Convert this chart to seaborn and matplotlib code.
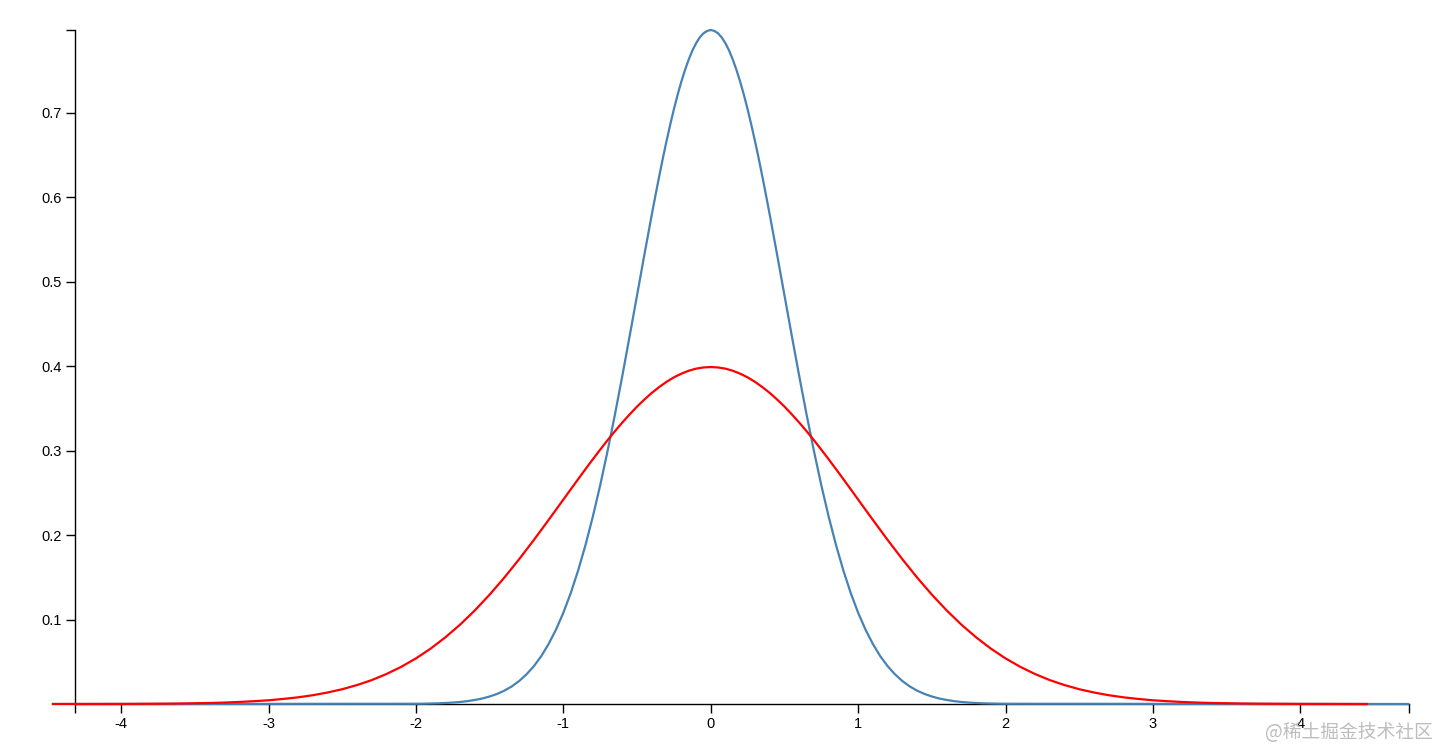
import numpy as np
import pandas as pd
import matplotlib
matplotlib.use("Agg")
import matplotlib.pyplot as plt
import seaborn as sns

# ---- data ----
# red curve: standard normal density (sample positions and heights)
red_x = ([-4.47]
         + list(np.round(np.linspace(-4.0, -1.1, 30), 3))
         + list(np.round(np.linspace(-1.0, 1.0, 41), 3))
         + list(np.round(np.linspace(1.1, 4.0, 30), 3))
         + [4.46])
red_y = [0.0,
         # -4.0 .. -1.1
         0.0001, 0.0002, 0.0003, 0.0004, 0.0006, 0.0009, 0.0012, 0.0017, 0.0024, 0.0033,
         0.0044, 0.0060, 0.0079, 0.0104, 0.0136, 0.0175, 0.0224, 0.0283, 0.0355, 0.0440,
         0.0540, 0.0656, 0.0790, 0.0940, 0.1109, 0.1295, 0.1497, 0.1714, 0.1942, 0.2179,
         # -1.0 .. 1.0
         0.2420, 0.2541, 0.2661, 0.2780, 0.2897, 0.3011, 0.3123, 0.3230, 0.3332, 0.3429,
         0.3521, 0.3605, 0.3683, 0.3752, 0.3814, 0.3867, 0.3910, 0.3945, 0.3970, 0.3984,
         0.3989,
         0.3984, 0.3970, 0.3945, 0.3910, 0.3867, 0.3814, 0.3752, 0.3683, 0.3605, 0.3521,
         0.3429, 0.3332, 0.3230, 0.3123, 0.3011, 0.2897, 0.2780, 0.2661, 0.2541, 0.2420,
         # 1.1 .. 4.0
         0.2179, 0.1942, 0.1714, 0.1497, 0.1295, 0.1109, 0.0940, 0.0790, 0.0656, 0.0540,
         0.0440, 0.0355, 0.0283, 0.0224, 0.0175, 0.0136, 0.0104, 0.0079, 0.0060, 0.0044,
         0.0033, 0.0024, 0.0017, 0.0012, 0.0009, 0.0006, 0.0004, 0.0003, 0.0002, 0.0001,
         0.0]

# blue curve: narrower normal density (sample positions and heights)
blue_x = ([-4.47]
          + list(np.round(np.linspace(-2.0, -0.45, 32), 3))
          + list(np.round(np.linspace(-0.4, 0.4, 33), 3))
          + list(np.round(np.linspace(0.45, 2.0, 32), 3))
          + [4.74])
blue_y = [0.0,
          # -2.0 .. -0.45
          0.0003, 0.0004, 0.0006, 0.0008, 0.0012, 0.0017, 0.0024, 0.0034, 0.0048, 0.0065,
          0.0089, 0.0119, 0.0158, 0.0208, 0.0272, 0.0351, 0.0448, 0.0566, 0.0710, 0.0880,
          0.1080, 0.1312, 0.1579, 0.1880, 0.2218, 0.2590, 0.2995, 0.3427, 0.3884, 0.4357,
          0.4839, 0.5321,
          # -0.4 .. 0.4
          0.5794, 0.6022, 0.6245, 0.6460, 0.6664, 0.6858, 0.7041, 0.7210, 0.7365, 0.7504,
          0.7627, 0.7734, 0.7821, 0.7890, 0.7939, 0.7968,
          0.7979,
          0.7968, 0.7939, 0.7890, 0.7821, 0.7734, 0.7627, 0.7504, 0.7365, 0.7210, 0.7041,
          0.6858, 0.6664, 0.6460, 0.6245, 0.6022, 0.5794,
          # 0.45 .. 2.0
          0.5321, 0.4839, 0.4357, 0.3884, 0.3427, 0.2995, 0.2590, 0.2218, 0.1880, 0.1579,
          0.1312, 0.1080, 0.0880, 0.0710, 0.0566, 0.0448, 0.0351, 0.0272, 0.0208, 0.0158,
          0.0119, 0.0089, 0.0065, 0.0048, 0.0034, 0.0024, 0.0017, 0.0012, 0.0008, 0.0006,
          0.0004, 0.0003,
          0.0]

assert len(red_x) == len(red_y) and len(blue_x) == len(blue_y)

x_domain = [-4.313, 4.737]
y_domain = [0.0, 0.7979]
x_ticks = [-4, -3, -2, -1, 0, 1, 2, 3, 4]
x_tick_labels = ["-4", "-3", "-2", "-1", "0", "1", "2", "3", "4"]
y_ticks = [0.1, 0.2, 0.3, 0.4, 0.5, 0.6, 0.7]
y_tick_labels = ["0.1", "0.2", "0.3", "0.4", "0.5", "0.6", "0.7"]
watermark = "@稀土掘金技术社区"

# ---- drawing ----
sns.set_theme(style="white")
plt.rcParams["font.family"] = ["Liberation Sans", "DejaVu Sans"]
plt.rcParams["axes.unicode_minus"] = False

fig = plt.figure(figsize=(14.4, 7.5), dpi=100)
ax = fig.add_axes([75 / 1440, 1 - 704 / 750, (1409 - 75) / 1440, (704 - 30) / 750])

df_blue = pd.DataFrame({"x": blue_x, "y": blue_y})
df_red = pd.DataFrame({"x": red_x, "y": red_y})
sns.lineplot(data=df_blue, x="x", y="y", color="#4682b4", linewidth=1.6,
             sort=False, ax=ax, clip_on=False, zorder=3,
             solid_joinstyle="round", solid_capstyle="butt")
sns.lineplot(data=df_red, x="x", y="y", color="#ff0000", linewidth=1.6,
             sort=False, ax=ax, clip_on=False, zorder=4,
             solid_joinstyle="round", solid_capstyle="butt")

ax.set_xlim(*x_domain)
ax.set_ylim(*y_domain)
ax.set_xlabel("")
ax.set_ylabel("")

# ticks incl. d3-style outer ticks at domain ends (blank labels)
ax.set_xticks([x_domain[0]] + x_ticks + [x_domain[1]])
ax.set_xticklabels([""] + x_tick_labels + [""])
ax.set_yticks(y_ticks + [y_domain[1]])
ax.set_yticklabels(y_tick_labels + [""])

for s in ["top", "right"]:
    ax.spines[s].set_visible(False)
for s in ["left", "bottom"]:
    ax.spines[s].set_color("#000000")
    ax.spines[s].set_linewidth(1.0)
    ax.spines[s].set_zorder(2)

ax.tick_params(axis="both", which="major", direction="out", length=6.5, width=1.0,
               color="#000000", labelsize=10.5, labelcolor="#000000", pad=3,
               bottom=True, left=True)
ax.grid(False)

fig.text(0.995, 0.023, watermark, ha="right", va="center", fontsize=13.5,
         color="#bdbdbd", family=["Noto Sans CJK SC", "DejaVu Sans"])

fig.savefig("out.png", dpi=100, facecolor="white")
